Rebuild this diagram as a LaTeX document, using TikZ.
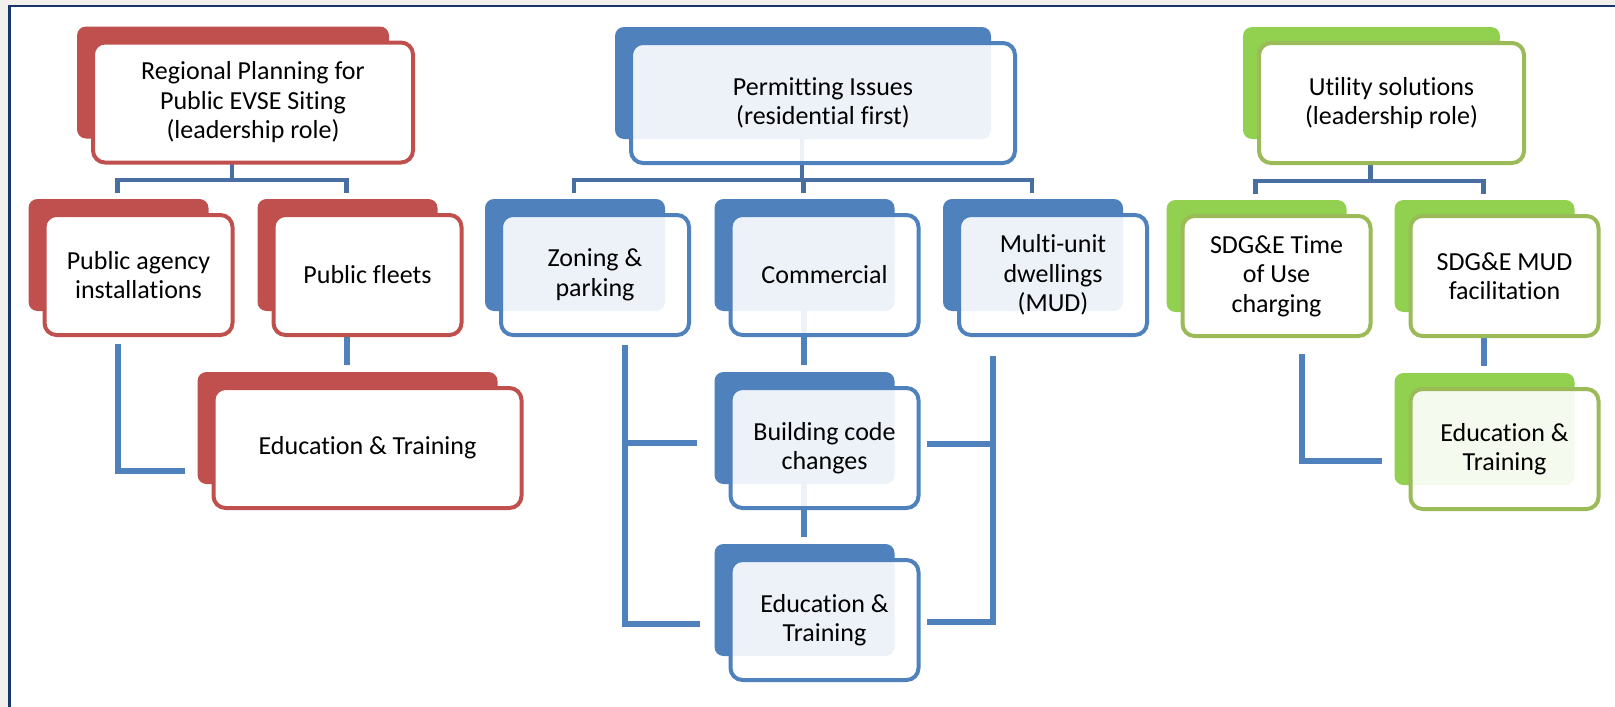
\documentclass[tikz,border=0pt]{standalone}
\usepackage{fontspec}
\setmainfont{Carlito}[Ligatures=NoCommon]
\usetikzlibrary{positioning,backgrounds}
\definecolor{boxred}{RGB}{192,80,77}
\definecolor{boxblue}{RGB}{79,129,189}
\definecolor{boxgreen}{RGB}{146,208,80}
\definecolor{linegreen}{RGB}{155,187,89}
\definecolor{treeblue}{RGB}{72,110,162}
\definecolor{frameblue}{RGB}{23,54,110}
\definecolor{paper}{RGB}{242,240,234}
\tikzset{box/.style={rectangle,rounded corners=12pt,line width=4pt,fill=white,minimum width=188pt,minimum height=120pt,inner sep=0pt,outer sep=0pt,align=center,font=\fontsize{26}{29.5}\selectfont},
         see through/.style={fill opacity=0.9,text opacity=1},
         red box/.style={box,draw=boxred},
         blue box/.style={box,draw=boxblue,see through},
         green box/.style={box,draw=linegreen},
         tree/.style={treeblue,line width=4.5pt},
         link/.style={boxblue,line width=6pt}
}
\begin{document}
\begin{tikzpicture}[x=1pt,y=-1pt]
\useasboundingbox (0,0) rectangle (1615,707);
\begin{scope}[on background layer]
\fill [paper] (0,0) rectangle (1615,707);
\fill [white] (9.5,6) rectangle (1615,707);
\draw [frameblue,line width=2.4pt] (9.5,707) -- (9.5,6) -- (1615,6);
\end{scope}

\node [red box, minimum width=320pt] (rp) at (253,102.5) {Regional Planning for\\Public EVSE Siting\\(leadership role)};
\node [red box] (pa) at (138.5,275) {Public agency\\installations};
\node [red box] (pf) at (367.5,275) {Public fleets};
\node [red box, minimum width=308pt, below=53pt of pf] (et1) {Education \& Training};

\node [blue box, minimum width=384pt] (pi) at (823,103) {Permitting Issues\\(residential first)};
\node [blue box] (zp) at (595,275) {Zoning \&\\parking};
\node [blue box] (cm) at (824.5,275) {Commercial};
\node [blue box] (mud) at (1053,275) {Multi-unit\\dwellings\\(MUD)};
\node [blue box, below=53pt of cm] (bc) {Building code\\changes};
\node [blue box, below=52pt of bc] (et2) {Education \&\\Training};

\node [green box, minimum width=265pt] (us) at (1391.5,103) {Utility solutions\\(leadership role)};
\node [green box] (tou) at (1276.5,276) {SDG\&E Time\\of Use\\charging};
\node [green box] (mudf) at (1504.5,276) {SDG\&E MUD\\facilitation};
\node [green box, see through, below=53pt of mudf] (et3) {Education \&\\Training};

\begin{scope}[on background layer]
\foreach \top/\kid in {rp/pa,rp/pf,pi/zp,pi/cm,pi/mud,us/tou,us/mudf}
  \draw [tree] ([xshift=-21pt]\top.center) |- ([xshift=-21pt,yshift=35pt]\kid.north) -- ++(0,13);
\foreach \top/\kid in {pf/et1,cm/bc,bc/et2,mudf/et3}
  \draw [link] ([xshift=-21pt]\top.center) -- ([xshift=-21pt,yshift=23pt]\kid.north);
\draw [link] ([xshift=-21pt,yshift=-9pt]pa.south) |- ([xshift=-29pt,yshift=-23pt]et1.west);
\draw [link] ([xshift=25pt,yshift=-18pt]tou.south) |- ([xshift=-29pt,yshift=-12pt]et3.west);
\draw [link] ([xshift=30pt,yshift=-10pt]zp.south) |- ([xshift=-31pt,yshift=-4pt]et2.west);
\draw [link] ([xshift=-34pt,yshift=5pt]bc.west) -| ([xshift=30pt,yshift=-10pt]zp.south);
\draw [link] ([xshift=-60pt,yshift=-21pt]mud.south) |- ([xshift=8pt,yshift=-2pt]et2.east);
\draw [link] ([xshift=8pt,yshift=4pt]bc.east) -| ([xshift=-60pt,yshift=-21pt]mud.south);
\foreach \n/\c in {rp/boxred,pa/boxred,pf/boxred,et1/boxred,pi/boxblue,zp/boxblue,cm/boxblue,mud/boxblue,bc/boxblue,et2/boxblue,us/boxgreen,tou/boxgreen,mudf/boxgreen,et3/boxgreen}
  \fill [\c, rounded corners=9pt] ([shift={(-16,-16)}]\n.north west) rectangle ([shift={(-24,-24)}]\n.south east);
\end{scope}
\end{tikzpicture}
\end{document}
